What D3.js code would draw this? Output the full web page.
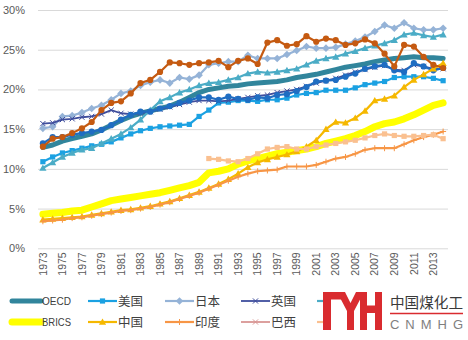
<!DOCTYPE html>
<html><head><meta charset="utf-8">
<script src="https://cdn.jsdelivr.net/npm/d3@7"></script>
<style>
body{margin:0;background:#fff;}
svg{display:block;font-family:"Liberation Sans","Noto Sans CJK SC",sans-serif;}
</style></head>
<body><svg id="c" width="468" height="340"></svg>
<script>
const years = [1973,1974,1975,1976,1977,1978,1979,1980,1981,1982,1983,1984,1985,1986,1987,1988,1989,1990,1991,1992,1993,1994,1995,1996,1997,1998,1999,2000,2001,2002,2003,2004,2005,2006,2007,2008,2009,2010,2011,2012,2013,2014];
const tickYears = [1973,1975,1977,1979,1981,1983,1985,1987,1989,1991,1993,1995,1997,1999,2001,2003,2005,2007,2009,2011,2013];
const yTicks = [0,0.05,0.10,0.15,0.20,0.25,0.30];

// values in percent
const oecd = [12.7,13.0,13.5,13.8,14.1,14.4,14.9,15.5,16.1,16.6,17.0,17.3,17.6,17.9,18.4,19.0,19.6,20.0,20.2,20.4,20.5,20.7,20.8,20.9,21.0,21.2,21.5,21.7,21.9,22.2,22.5,22.8,23.0,23.2,23.5,23.7,23.9,24.0,24.1,24.0,24.0,23.9];
const usa = [10.9,11.5,12.0,12.3,12.6,12.9,13.1,13.4,13.9,14.4,14.8,15.1,15.3,15.4,15.5,15.6,16.6,17.4,18.3,18.4,18.6,18.6,18.5,18.7,18.7,18.9,19.3,19.5,19.6,19.9,19.9,19.9,20.2,20.6,20.8,21.0,21.5,21.6,21.6,21.6,21.4,21.1];
const japan = [15.1,15.3,16.6,16.7,17.1,17.6,18.0,18.7,19.5,19.8,20.5,20.9,21.2,20.8,21.5,21.3,21.8,23.1,23.3,23.5,23.5,24.3,23.9,23.9,23.9,24.4,24.9,25.4,25.2,25.2,25.3,25.7,26.1,26.6,27.3,28.1,27.7,28.4,27.7,27.5,27.5,27.7];
const uk = [15.7,15.8,16.2,16.3,16.5,16.6,16.9,17.4,17.0,16.9,17.0,17.2,17.5,17.8,18.1,18.4,18.6,18.6,18.5,18.6,18.8,19.0,19.2,19.3,19.6,19.8,20.0,20.4,20.8,21.1,21.4,21.8,22.2,22.5,22.8,23.0,22.5,22.4,23.1,22.9,22.6,22.6];
const germany = [10.1,10.8,11.5,12.0,12.4,12.6,13.2,13.8,14.4,15.2,16.2,17.4,18.5,19.0,19.6,20.0,20.5,20.8,20.9,21.2,21.5,22.0,22.2,22.1,22.2,22.4,22.6,23.1,23.6,23.9,24.1,24.5,24.8,25.2,25.5,25.8,26.2,26.9,27.1,26.8,26.6,26.9];
const france = [13.2,14.0,14.0,14.3,14.5,14.7,14.9,15.5,16.2,16.8,17.2,17.2,17.6,17.9,18.3,18.6,19.0,19.0,18.7,19.1,18.8,18.7,19.0,18.9,19.3,19.4,19.8,20.3,21.0,21.1,21.2,21.6,22.0,22.6,22.9,23.1,22.4,22.2,23.3,22.9,22.4,22.7];
const brics = [4.3,4.4,4.5,4.7,4.8,5.2,5.6,6.0,6.2,6.4,6.6,6.8,7.0,7.3,7.6,7.9,8.3,9.5,9.7,10.0,10.6,11.0,11.3,11.6,11.9,12.1,12.3,12.5,12.8,13.2,13.5,13.8,14.2,14.7,15.3,15.7,15.9,16.3,16.8,17.4,18.0,18.3];
const china = [3.6,3.7,3.8,3.9,4.0,4.2,4.4,4.6,4.8,4.9,5.1,5.3,5.6,5.9,6.3,6.7,7.1,7.6,8.1,8.7,9.4,10.2,10.8,11.2,11.5,11.8,12.2,12.8,13.6,15.0,15.9,15.8,16.4,17.3,18.6,18.8,19.2,20.3,21.2,21.9,22.6,23.3];
const india = [3.4,3.5,3.6,3.8,3.9,4.1,4.3,4.5,4.7,4.8,5.0,5.2,5.5,5.8,6.2,6.6,7.0,7.5,8.0,8.5,9.0,9.4,9.7,9.8,9.9,10.3,10.3,10.3,10.5,10.9,11.3,11.5,11.9,12.4,12.6,12.6,12.6,13.1,13.6,14.0,14.3,14.7];
const brazil = [];
const russia = [null,null,null,null,null,null,null,null,null,null,null,null,null,null,null,null,null,11.3,11.2,11.0,10.9,11.3,11.9,12.5,12.7,12.8,12.5,12.5,12.8,13.0,13.2,13.4,13.6,13.9,14.2,14.4,14.2,14.1,14.1,14.2,14.3,13.8];
const safrica = [12.8,13.8,14.0,14.5,15.1,15.9,17.4,18.3,18.5,19.5,20.8,21.2,22.2,23.4,23.3,23.1,23.3,23.4,23.6,22.8,23.6,23.9,23.2,25.9,26.2,25.5,25.7,26.7,26.0,26.4,26.2,25.6,25.8,26.3,25.8,24.5,22.9,25.6,25.4,24.1,23.1,22.7];

const series = [
  {name:"OECD", values:oecd, color:"#31859c", width:5, marker:null, row:0, col:0},
  {name:"美国", values:usa, color:"#1ba1e2", width:2.2, marker:"square", row:0, col:1},
  {name:"日本", values:japan, color:"#95b3d7", width:2.2, marker:"diamond", row:0, col:2},
  {name:"英国", values:uk, color:"#3f4e9d", width:1.8, marker:"x", row:0, col:3},
  {name:"德国", values:germany, color:"#4bacc6", width:2.2, marker:"triangle", row:0, col:4},
  {name:"法国", values:france, color:"#1f6dc2", width:2.2, marker:"circle", row:0, col:5},
  {name:"BRICS", values:brics, color:"#ffff00", width:7, marker:null, row:1, col:0},
  {name:"中国", values:china, color:"#f5b800", width:2.2, marker:"triangle", row:1, col:1},
  {name:"印度", values:india, color:"#f79646", width:2.2, marker:"plus", row:1, col:2},
  {name:"巴西", values:brazil, color:"#d99694", width:1.8, marker:"x", row:1, col:3},
  {name:"俄罗斯", values:russia, color:"#fac090", width:2.2, marker:"square", row:1, col:4},
  {name:"南非", values:safrica, color:"#c55a11", width:2.2, marker:"circle", row:1, col:5}
];

const svg = d3.select("#c");
const pLeft = 38, pRight = 448, pTop = 10, pBottom = 248.3;
const x = d3.scaleBand().domain(years).range([pLeft, pRight]);
const cx = d => x(d) + x.bandwidth()/2;
const y = d3.scaleLinear().domain([0, 0.30]).range([pBottom, pTop]);

// y axis with gridlines
const ya = svg.append("g").attr("transform", `translate(${pLeft},0)`)
  .call(d3.axisLeft(y).tickValues(yTicks).tickFormat(d3.format(".0%")).tickSize(-(pRight-pLeft)).tickPadding(13));
ya.select(".domain").remove();
ya.selectAll("line").attr("stroke", "#d9d9d9").attr("stroke-width", 1);
ya.selectAll("text").attr("fill", "#595959").style("font-size", "11px");

// x axis labels
const xa = svg.append("g").attr("transform", `translate(0,${pBottom})`)
  .call(d3.axisBottom(x).tickValues(tickYears).tickSize(0));
xa.select(".domain").remove();
xa.selectAll("text")
  .attr("fill", "#595959").style("font-size", "10.5px")
  .attr("transform", "rotate(-90)")
  .attr("text-anchor", "end")
  .attr("x", -4).attr("y", 0).attr("dy", "0.35em");

function drawMarker(g, type, px, py, color) {
  if (type === "square") {
    g.append("rect").attr("x", px-2.6).attr("y", py-2.6).attr("width", 5.2).attr("height", 5.2).attr("fill", color);
  } else if (type === "diamond") {
    g.append("path").attr("d", `M${px},${py-3.8}L${px+3.8},${py}L${px},${py+3.8}L${px-3.8},${py}Z`).attr("fill", color);
  } else if (type === "circle") {
    g.append("circle").attr("cx", px).attr("cy", py).attr("r", 3.1).attr("fill", color);
  } else if (type === "triangle") {
    g.append("path").attr("d", `M${px},${py-3.6}L${px+3.6},${py+2.8}L${px-3.6},${py+2.8}Z`).attr("fill", color);
  } else if (type === "x") {
    g.append("path").attr("d", `M${px-2.6},${py-2.6}L${px+2.6},${py+2.6}M${px-2.6},${py+2.6}L${px+2.6},${py-2.6}`).attr("stroke", color).attr("stroke-width", 1);
  } else if (type === "plus") {
    g.append("path").attr("d", `M${px-3},${py}L${px+3},${py}M${px},${py-3}L${px},${py+3}`).attr("stroke", color).attr("stroke-width", 1);
  }
}

const line = d3.line().defined(d => d.v != null).x(d => cx(d.year)).y(d => y(d.v/100));
const plot = svg.append("g");
series.forEach(s => {
  const pts = s.values.map((v,i) => ({year: years[i], v: v}));
  if (!pts.length) return;
  const g = plot.append("g");
  g.append("path").datum(pts).attr("d", line).attr("fill", "none")
    .attr("stroke", s.color).attr("stroke-width", s.width).attr("stroke-linejoin", "round").attr("stroke-linecap", "round");
  if (s.marker) pts.filter(d => d.v != null).forEach(d => drawMarker(g, s.marker, cx(d.year), y(d.v/100), s.color));
});

// legend (entries in columns 5 and 6 lie under the logo, only their line stubs peek out)
const legX = [12, 88, 165, 241, 317, 393];
const legY = [301, 322];
const leg = svg.append("g");
series.forEach(s => {
  const lx = legX[s.col], ly = legY[s.row];
  const g = leg.append("g");
  g.append("line").attr("x1", lx).attr("x2", lx+29).attr("y1", ly).attr("y2", ly)
    .attr("stroke", s.color).attr("stroke-width", s.width).attr("stroke-linecap", s.marker ? "butt" : "round");
  if (s.col >= 4) return;
  if (s.marker) drawMarker(g, s.marker, lx+14.5, ly, s.color);
  const latin = /^[A-Z]/.test(s.name);
  const t = g.append("text").attr("x", lx+30).attr("y", ly).attr("dy", "0.36em")
    .attr("fill", "#404040").style("font-size", latin ? "11px" : "12.5px").text(s.name);
  if (latin) t.attr("textLength", 29).attr("lengthAdjust", "spacingAndGlyphs");
});

// logo overlay
const logo = svg.append("g");
logo.append("rect").attr("x", 323).attr("y", 286).attr("width", 145).attr("height", 54).attr("fill", "#fff");
const red = "#d92b2f";
logo.append("rect").attr("x", 323).attr("y", 292).attr("width", 8).attr("height", 38).attr("fill", red);
logo.append("rect").attr("x", 323).attr("y", 292).attr("width", 22).attr("height", 7.5).attr("fill", red);
logo.append("path").attr("d", "M337,292L345,292L350.5,303L356,292L364,292L354,311L354,330L347,330L347,311Z").attr("fill", red);
logo.append("rect").attr("x", 360).attr("y", 292).attr("width", 7).attr("height", 38).attr("fill", red);
logo.append("rect").attr("x", 375).attr("y", 292).attr("width", 7).attr("height", 38).attr("fill", red);
logo.append("rect").attr("x", 360).attr("y", 305.5).attr("width", 22).attr("height", 7.5).attr("fill", red);
logo.append("text").attr("x", 390).attr("y", 307.5).attr("fill", "#3a3a3a")
  .style("font-size", "14.5px").attr("textLength", 73).attr("lengthAdjust", "spacingAndGlyphs").text("中国煤化工");
logo.append("line").attr("x1", 390).attr("x2", 463).attr("y1", 313.5).attr("y2", 313.5).attr("stroke", red).attr("stroke-width", 1.3);
logo.append("text").attr("x", 390).attr("y", 328.5).attr("fill", "#7f7f7f")
  .style("font-size", "13px").attr("textLength", 73).attr("lengthAdjust", "spacing").text("CNMHG");
</script></body></html>
